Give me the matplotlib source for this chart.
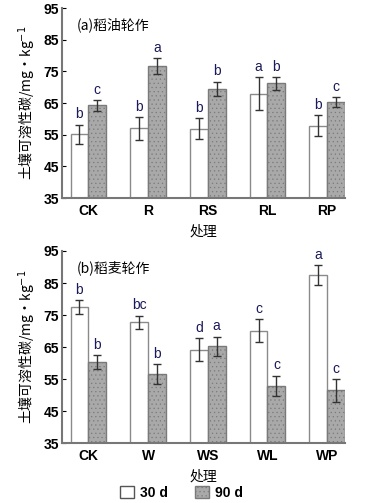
import matplotlib

matplotlib.use("Agg")
import matplotlib.pyplot as plt
import numpy as np
from matplotlib.patches import Patch

plt.rcParams["font.family"] = ["Liberation Sans", "Noto Sans CJK SC", "DejaVu Sans"]
plt.rcParams["hatch.linewidth"] = 0.4

cats_a = ["CK", "R", "RS", "RL", "RP"]
d30_a = [55.2, 57.0, 56.9, 68.0, 57.8]
d30_a_err = [3.0, 3.6, 3.3, 5.2, 3.3]
d90_a = [64.3, 76.6, 69.6, 71.2, 65.4]
d90_a_err = [1.7, 2.5, 2.2, 2.1, 1.5]
let30_a = ["b", "b", "b", "a", "b"]
let90_a = ["c", "a", "b", "b", "c"]

cats_b = ["CK", "W", "WS", "WL", "WP"]
d30_b = [77.4, 72.7, 64.2, 70.1, 87.5]
d30_b_err = [2.2, 2.1, 3.7, 3.6, 3.1]
d90_b = [60.4, 56.6, 65.2, 52.9, 51.5]
d90_b_err = [2.2, 3.2, 3.1, 3.2, 3.6]
let30_b = ["b", "bc", "d", "c", "a"]
let90_b = ["b", "b", "a", "c", "c"]

yticks = [35, 45, 55, 65, 75, 85, 95]
ylabel = "土壤可溶性碳/mg·kg$^{-1}$"
cjk = ["Noto Sans CJK SC", "DejaVu Sans"]

fig = plt.figure(figsize=(3.86, 5.03), dpi=100)
ax_a = fig.add_axes([0.161, 0.606, 0.733, 0.378])
ax_b = fig.add_axes([0.161, 0.119, 0.733, 0.382])

w = 0.3
gray = "#a9a9a9"


def draw(ax, cats, v30, e30, v90, e90, l30, l90, title):
    x = np.arange(len(cats))
    ax.bar(x - w / 2, v30, w, color="white", edgecolor="#8a8a8a",
           linewidth=1.0, yerr=e30, capsize=3,
           error_kw=dict(ecolor="#333333", elinewidth=1.0, capthick=1.0))
    ax.bar(x + w / 2, v90, w, color=gray, edgecolor="#7a7a7a", hatch="....",
           linewidth=1.0, yerr=e90, capsize=3,
           error_kw=dict(ecolor="#333333", elinewidth=1.0, capthick=1.0))
    for i in range(len(cats)):
        ax.text(x[i] - w / 2, v30[i] + e30[i] + 1.0, l30[i], ha="center",
                va="bottom", fontsize=10, color="#1a1a5a")
        ax.text(x[i] + w / 2, v90[i] + e90[i] + 1.0, l90[i], ha="center",
                va="bottom", fontsize=10, color="#1a1a5a")
    ax.set_ylim(35, 95)
    ax.set_xlim(-0.44, 4.3)
    ax.set_yticks(yticks)
    ax.set_xticks(x)
    ax.set_xticklabels(cats, fontsize=10)
    ax.tick_params(axis="y", direction="in", length=3, labelsize=10, pad=2)
    ax.tick_params(axis="x", length=0, pad=4)
    for lab in ax.get_xticklabels() + ax.get_yticklabels():
        lab.set_fontweight("bold")
    for s in ["top", "right"]:
        ax.spines[s].set_visible(False)
    for s in ["left", "bottom"]:
        ax.spines[s].set_color("#777777")
        ax.spines[s].set_linewidth(1.5)
    ax.set_ylabel(ylabel, fontsize=10, family=cjk, labelpad=4)
    ax.set_xlabel("处理", fontsize=10, family=cjk, labelpad=5)
    ax.text(0.05, 0.95, title, transform=ax.transAxes, fontsize=10,
            family=cjk, va="top", ha="left")


draw(ax_a, cats_a, d30_a, d30_a_err, d90_a, d90_a_err, let30_a, let90_a, "(a)稻油轮作")
draw(ax_b, cats_b, d30_b, d30_b_err, d90_b, d90_b_err, let30_b, let90_b, "(b)稻麦轮作")

handles = [Patch(facecolor="white", edgecolor="#555555", label="30 d"),
           Patch(facecolor=gray, edgecolor="#7a7a7a", hatch="....", label="90 d")]
leg = fig.legend(handles=handles, loc="center", bbox_to_anchor=(0.47, 0.02), ncol=2,
                 frameon=False, fontsize=10, handlelength=1.0, handleheight=1.0,
                 handletextpad=0.4, columnspacing=2.0)
for t in leg.get_texts():
    t.set_fontweight("bold")

fig.savefig("out.png", dpi=100)
